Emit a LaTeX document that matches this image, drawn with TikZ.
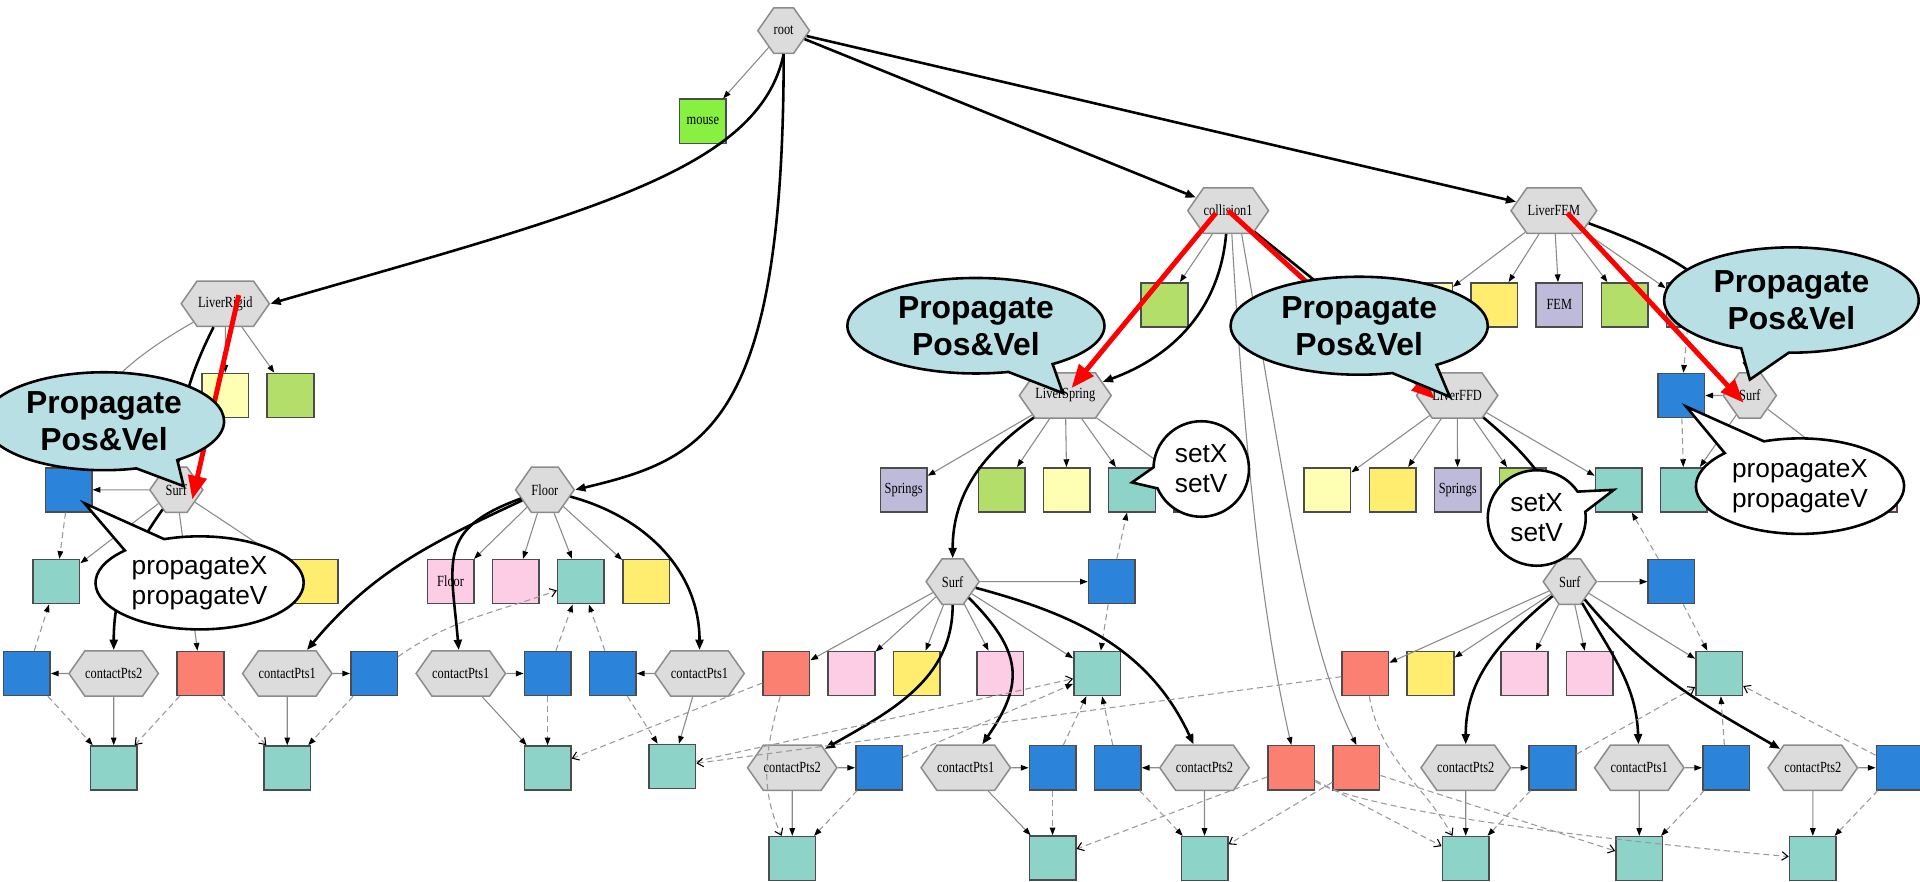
\documentclass[tikz,border=0pt]{standalone}
\usepackage{fontspec}
\setmainfont{Liberation Serif}
\setsansfont{Liberation Sans}
\usepackage{graphicx}
\usetikzlibrary{arrows.meta,positioning,shapes.symbols,shapes.callouts}
\definecolor{hexfill}{HTML}{DCDCDC}
\definecolor{hexline}{HTML}{8C8C8C}
\definecolor{cteal}{HTML}{8DD3C7}
\definecolor{cblue}{HTML}{2B83DA}
\definecolor{cred}{HTML}{FB8072}
\definecolor{cpink}{HTML}{FCCDE5}
\definecolor{cyel}{HTML}{FFED6F}
\definecolor{cly}{HTML}{FFFFB3}
\definecolor{cgrn}{HTML}{B3DE69}
\definecolor{clav}{HTML}{BEBADA}
\definecolor{cmouse}{HTML}{88F040}
\definecolor{bubblue}{HTML}{B8E0E4}
\definecolor{edgegray}{HTML}{8A8A8A}
\definecolor{mapgray}{HTML}{9A9A9A}
\newcommand{\nm}[1]{\scalebox{0.8}[1]{#1}}
\tikzset{
  hexn/.style={signal,signal to=west and east,signal pointer angle=110,draw=hexline,fill=hexfill,line width=0.35pt,minimum height=3.7mm,inner xsep=0pt,inner ysep=0pt,font=\fontsize{3.6}{4}\selectfont},
  sq/.style={rectangle,draw=black!70,line width=0.35pt,minimum width=3.8mm,minimum height=3.6mm,inner sep=0pt,font=\fontsize{3.6}{4}\selectfont},
  tealsq/.style={sq,fill=cteal},
  bluesq/.style={sq,fill=cblue},
  redsq/.style={sq,fill=cred},
  pinksq/.style={sq,fill=cpink},
  yelsq/.style={sq,fill=cyel},
  lysq/.style={sq,fill=cly},
  grnsq/.style={sq,fill=cgrn},
  lavsq/.style={sq,fill=clav},
  mousesq/.style={sq,fill=cmouse},
  comp/.style={draw=edgegray,line width=0.25pt,-{Triangle[black,length=1.8pt,width=1.3pt]}},
  sub/.style={draw=black,line width=0.6pt,-{Triangle[length=2.4pt,width=1.8pt]}},
  mapd/.style={draw=mapgray,line width=0.25pt,dash pattern=on 1.4pt off 0.9pt,-{Triangle[black,length=1.8pt,width=1.3pt]}},
  mapo/.style={mapd,-{Straight Barb[black,length=1.4pt,width=2pt]}},
  redarr/.style={draw=red,line width=1.15pt,-{Triangle[length=5.5pt,width=4.2pt]}},
  bubble/.style={ellipse callout,draw=black,line width=0.6pt,fill=bubblue,inner sep=0pt,callout pointer arc=22,align=center,font=\sffamily\bfseries\fontsize{7.4}{8.6}\selectfont},
  talk/.style={bubble,fill=white,callout pointer arc=26,font=\sffamily\fontsize{6.1}{7}\selectfont}
}
\begin{document}
\begin{tikzpicture}[x=0.1mm,y=-0.1mm,node distance=1.4mm]
\path[use as bounding box,fill=white] (0,0) rectangle (1568,720);

% top level
\node[hexn,minimum width=4mm] (root) at (640,25) {\nm{root}};
\node[mousesq] (mouse) at (574,99) {\nm{mouse}};
\node[hexn,minimum width=7.2mm] (lrigid) at (184,248) {\nm{LiverRigid}};
\node[hexn,minimum width=4.2mm] (floor) at (445,400) {\nm{Floor}};
\node[hexn,minimum width=6.6mm] (coll) at (1003,172) {\nm{collision1}};
\node[hexn,minimum width=7mm] (lfem) at (1269,172) {\nm{LiverFEM}};

% children of collision1 / LiverFEM
\node[grnsq] (cgreen) at (951,249) {};
\node[lysq] (fly) at (1167,249) {};
\node[yelsq,right=of fly] (fyel) {};
\node[lavsq,right=of fyel] (ffem) {\nm{FEM}};
\node[grnsq,right=of ffem] (fgreen) {};
\node[tealsq,right=of fgreen] (fteal) {};

% second level
\node[lysq] (lry) at (184,323) {};
\node[grnsq,right=of lry] (lrg) {};
\node[hexn,minimum width=7.5mm] (lspring) at (870,323) {\nm{LiverSpring}};
\node[hexn,minimum width=6.6mm] (lffd) at (1190,323) {\nm{LiverFFD}};
\node[bluesq] (fblue) at (1373,323) {};
\node[hexn,minimum width=3.9mm,right=of fblue] (fsurf) {\nm{Surf}};

\node[hexn,minimum width=3.9mm] (lsurf) at (144,400) {\nm{Surf}};
\node[bluesq] (lblue) at (56,400) {};
\node[lavsq] (springs1) at (738,400) {\nm{Springs}};
\node[grnsq] (sgreen) at (818,400) {};
\node[lysq,right=of sgreen] (sly) {};
\node[tealsq,right=of sly] (steal) {};
\node[yelsq,right=of steal] (syel) {};
\node[lysq] (dly) at (1084,400) {};
\node[yelsq,right=of dly] (dyel) {};
\node[lavsq,right=of dyel] (dspr) {\nm{Springs}};
\node[grnsq,right=of dspr] (dgreen) {};
\node[tealsq] (dteal) at (1322,400) {};
\node[tealsq,right=of dteal] (fsteal) {};
\node[pinksq] (fspink) at (1530,400) {};

% surface level
\node[tealsq] (lteal) at (46,475) {};
\node[yelsq] (lyel) at (257,475) {};
\node[pinksq] (fpink) at (368,475) {\nm{Floor}};
\node[pinksq,right=of fpink] (fpink2) {};
\node[tealsq,right=of fpink2] (fteal2) {};
\node[yelsq,right=of fteal2] (fyel2) {};
\node[hexn,minimum width=3.9mm] (msurf) at (778,475) {\nm{Surf}};
\node[bluesq] (mblue) at (908,475) {};
\node[hexn,minimum width=3.9mm] (rsurf) at (1282,475) {\nm{Surf}};
\node[bluesq] (rblue) at (1365,475) {};

% contact row
\node[bluesq] (a1blue) at (22,550) {};
\node[hexn,minimum width=7.3mm,right=of a1blue] (a1cp) {\nm{contactPts2}};
\node[redsq,right=of a1cp] (a1red) {};
\node[hexn,minimum width=7.3mm,right=of a1red] (b1cp) {\nm{contactPts1}};
\node[bluesq,right=of b1cp] (b1blue) {};
\node[hexn,minimum width=7.3mm,right=of b1blue] (b2cp) {\nm{contactPts1}};
\node[bluesq,right=of b2cp] (b2blue) {};
\node[bluesq,right=of b2blue] (b3blue) {};
\node[hexn,minimum width=7.3mm,right=of b3blue] (b3cp) {\nm{contactPts1}};
\node[redsq,right=of b3cp] (mred) {};
\node[pinksq,right=of mred] (mpink) {};
\node[yelsq,right=of mpink] (myel) {};
\node[pinksq] (mpink2) at (817,550) {};
\node[tealsq] (mteal) at (896,550) {};
\node[redsq] (rred) at (1115,550) {};
\node[yelsq,right=of rred] (ryel) {};
\node[pinksq] (rpink) at (1245,550) {};
\node[pinksq,right=of rpink] (rpink2) {};
\node[tealsq] (rteal) at (1404,550) {};

\node[tealsq,below=3.95mm of a1cp] (a1teal) {};
\node[tealsq,below=3.95mm of b1cp] (b1teal) {};
\node[tealsq,below=4mm of b2blue] (b2teal) {};
\node[tealsq] (b3teal) at (549,626) {};
\node[hexn,minimum width=7.3mm] (c1cp) at (647,627) {\nm{contactPts2}};
\node[bluesq,right=of c1cp] (c1blue) {};
\node[hexn,minimum width=7.3mm,right=of c1blue] (c2cp) {\nm{contactPts1}};
\node[bluesq,right=of c2cp] (c2blue) {};
\node[bluesq,right=of c2blue] (c3blue) {};
\node[hexn,minimum width=7.3mm,right=of c3blue] (c3cp) {\nm{contactPts2}};
\node[redsq,right=of c3cp] (cred1) {};
\node[redsq,right=of cred1] (cred2) {};
\node[hexn,minimum width=7.3mm] (d1cp) at (1197,627) {\nm{contactPts2}};
\node[bluesq,right=of d1cp] (d1blue) {};
\node[hexn,minimum width=7.3mm,right=of d1blue] (d2cp) {\nm{contactPts1}};
\node[bluesq,right=of d2cp] (d2blue) {};
\node[hexn,minimum width=7.3mm,right=of d2blue] (d3cp) {\nm{contactPts2}};
\node[bluesq,right=of d3cp] (d3blue) {};

\node[tealsq,below=3.65mm of c1cp] (c1teal) {};
\node[tealsq,below=3.65mm of c2blue] (c2teal) {};
\node[tealsq,below=3.65mm of c3cp] (c3teal) {};
\node[tealsq,below=3.65mm of d1cp] (d1teal) {};
\node[tealsq,below=3.65mm of d2cp] (d2teal) {};
\node[tealsq,below=3.65mm of d3cp] (d3teal) {};

% root edges
\draw[comp] (root) -- (mouse);
\draw[sub] (root.south) .. controls +(-20,95) and +(260,-75) .. (lrigid.east);
\draw[sub] (root.south) .. controls +(0,305) and +(105,-25) .. (floor.east);
\draw[sub] (root) -- (coll);
\draw[sub] (root) -- (lfem);

% LiverRigid
\draw[comp] (lrigid) -- (lry);
\draw[comp] (lrigid) -- (lrg);
\draw[comp] (lrigid) to[out=210,in=80] (lblue);
\draw[sub] (lrigid) to[bend right=12] (lsurf);
\draw[comp] (lsurf) -- (lblue);
\draw[comp] (lsurf) -- (lteal);
\draw[comp] (lsurf) -- (a1red);
\draw[comp] (lsurf) -- (lyel);
\draw[sub] (lsurf) to[out=-125,in=90] (a1cp);
\draw[mapd] (lblue) -- (lteal);
\draw[comp] (a1cp) -- (a1blue);
\draw[mapd] (a1blue) -- (lteal);
\draw[comp] (a1cp) -- (a1teal);
\draw[mapd] (a1blue) -- (a1teal);
\draw[mapo] (a1red) -- (a1teal);
\draw[mapo] (a1red) -- (b1teal);

% Floor
\draw[comp] (floor) -- (fpink);
\draw[comp] (floor) -- (fpink2);
\draw[comp] (floor) -- (fteal2);
\draw[comp] (floor) -- (fyel2);
\draw[sub] (floor) to[out=205,in=50] (b1cp);
\draw[sub] (floor) to[out=200,in=95,looseness=1.4] (b2cp);
\draw[sub] (floor) to[out=-15,in=90] (b3cp);
\draw[comp] (b1cp) -- (b1blue);
\draw[comp] (b1cp) -- (b1teal);
\draw[mapd] (b1blue) -- (b1teal);
\draw[mapo] (b1blue) to[out=35,in=200] (fteal2);
\draw[comp] (b2cp) -- (b2blue);
\draw[comp] (b2cp) -- (b2teal);
\draw[mapd] (b2blue) -- (b2teal);
\draw[mapd] (b2blue) -- (fteal2);
\draw[comp] (b3cp) -- (b3blue);
\draw[mapd] (b3blue) -- (fteal2);
\draw[comp] (b3cp) -- (b3teal);
\draw[mapd] (b3blue) -- (b3teal);

% collision1
\draw[comp] (coll) -- (cgreen);
\draw[sub] (coll) to[out=-95,in=20] (lspring);
\draw[sub] (coll) -- (lffd);
\draw[comp] ([xshift=0.3mm]coll.south) .. controls +(12,210) and +(-20,-88) .. (cred1.north);
\draw[comp] ([xshift=1.1mm]coll.south) .. controls +(40,230) and +(-40,-80) .. (cred2.north);

% LiverSpring
\draw[comp] (lspring) -- (springs1);
\draw[comp] (lspring) -- (sgreen);
\draw[comp] (lspring) -- (sly);
\draw[comp] (lspring) -- (steal);
\draw[comp] (lspring) -- (syel);
\draw[sub] (lspring) to[out=-145,in=90] (msurf);
\draw[comp] (msurf) -- (mblue);
\draw[mapd] (mblue) -- (steal);
\draw[mapd] (mblue) -- (mteal);
\draw[comp] (msurf) -- (mred);
\draw[comp] (msurf) -- (mpink);
\draw[comp] (msurf) -- (myel);
\draw[comp] (msurf) -- (mpink2);
\draw[comp] (msurf) -- (mteal);
\draw[sub] (msurf) to[out=-90,in=30] (c1cp);
\draw[sub] (msurf) to[out=-45,in=55,looseness=1.3] (c2cp);
\draw[sub] (msurf) to[out=-15,in=115] (c3cp);
\draw[comp] (c1cp) -- (c1blue);
\draw[comp] (c1cp) -- (c1teal);
\draw[mapd] (c1blue) -- (c1teal);
\draw[mapd] (c1blue) -- (mteal);
\draw[mapo] (mred) to[out=-105,in=115] (c1teal);
\draw[mapo] (mred) -- (b2teal);
\draw[mapo] (b3teal) -- (mteal);
\draw[comp] (c2cp) -- (c2blue);
\draw[comp] (c2cp) -- (c2teal);
\draw[mapd] (c2blue) -- (c2teal);
\draw[mapd] (c2blue) -- (mteal);
\draw[comp] (c3cp) -- (c3blue);
\draw[comp] (c3cp) -- (c3teal);
\draw[mapd] (c3blue) -- (mteal);
\draw[mapd] (c3blue) -- (c3teal);
\draw[mapo] (cred1) -- (c2teal);
\draw[mapo] (cred2) -- (c3teal);

% LiverFFD
\draw[comp] (lffd) -- (dly);
\draw[comp] (lffd) -- (dyel);
\draw[comp] (lffd) -- (dspr);
\draw[comp] (lffd) -- (dgreen);
\draw[comp] (lffd) -- (dteal);
\draw[sub] (lffd) to[out=-40,in=95] (rsurf);
\draw[comp] (rsurf) -- (rblue);
\draw[mapd] (rblue) -- (dteal);
\draw[mapd] (rblue) -- (rteal);
\draw[comp] (rsurf) -- (rred);
\draw[comp] (rsurf) -- (ryel);
\draw[comp] (rsurf) -- (rpink);
\draw[comp] (rsurf) -- (rpink2);
\draw[comp] (rsurf) -- (rteal);
\draw[sub] (rsurf) to[out=-140,in=90] (d1cp);
\draw[sub] (rsurf) to[out=-60,in=92] (d2cp);
\draw[sub] (rsurf) to[out=-50,in=150] (d3cp);
\draw[comp] (d1cp) -- (d1blue);
\draw[comp] (d1cp) -- (d1teal);
\draw[mapd] (d1blue) -- (d1teal);
\draw[mapo] (d1blue) -- (rteal);
\draw[comp] (d2cp) -- (d2blue);
\draw[comp] (d2cp) -- (d2teal);
\draw[mapd] (d2blue) -- (d2teal);
\draw[mapd] (d2blue) -- (rteal);
\draw[comp] (d3cp) -- (d3blue);
\draw[comp] (d3cp) -- (d3teal);
\draw[mapd] (d3blue) -- (d3teal);
\draw[mapo] (d3blue) -- (rteal);
\draw[mapo] (rred) -- (b3teal);
\draw[mapo] (rred) to[out=-80,in=120] (d1teal);
\draw[mapo] (cred1) -- (d1teal);
\draw[mapo] (cred2) -- (d2teal);
\draw[mapo] (cred1) to[out=-30,in=175,looseness=0.4] (d3teal);

% LiverFEM
\draw[comp] (lfem) -- (fly);
\draw[comp] (lfem) -- (fyel);
\draw[comp] (lfem) -- (ffem);
\draw[comp] (lfem) -- (fgreen);
\draw[comp] (lfem) -- (fteal);
\draw[sub] (lfem) to[out=-20,in=95] (fsurf);
\draw[comp] (fsurf) -- (fblue);
\draw[mapd] (fteal) -- (fblue);
\draw[mapd] (fblue) -- (fsteal);
\draw[comp] (fsurf) -- (fsteal);
\draw[comp] (fsurf) -- (fspink);

% propagation arrows
\draw[redarr] ([xshift=1.1mm,yshift=0.7mm]lrigid.center) -- ([xshift=1.3mm,yshift=-0.8mm]lsurf.center);
\draw[redarr] ([xshift=-1mm,yshift=-0.2mm]coll.center) -- ([xshift=0.5mm,yshift=0.6mm]lspring.center);
\draw[redarr] (coll.center) -- ([xshift=-1.8mm,yshift=-0.3mm]lffd.center);
\draw[redarr] ([xshift=1.1mm,yshift=-0.2mm]lfem.center) -- ([xshift=-0.5mm,yshift=-0.6mm]fsurf.center);

% callouts
\node[bubble,minimum width=19.6mm,minimum height=8mm,callout absolute pointer={([xshift=0.6mm,yshift=0.3mm]lsurf.center)}] (bubrigid) at (85,344) {Propagate\\Pos\&Vel};
\node[bubble,minimum width=21mm,minimum height=7.8mm,callout absolute pointer={([xshift=-0.2mm,yshift=0.2mm]lspring.center)}] (bubspring) at (797,266) {Propagate\\Pos\&Vel};
\node[bubble,minimum width=21mm,minimum height=8mm,callout absolute pointer={([xshift=-0.6mm,yshift=-0.1mm]lffd.center)}] (bubffd) at (1110,266) {Propagate\\Pos\&Vel};
\node[bubble,minimum width=20.8mm,minimum height=8.6mm,callout absolute pointer={([yshift=1.3mm]fsurf.center)}] (bubfem) at (1463,245) {Propagate\\Pos\&Vel};
\node[talk,minimum width=17mm,minimum height=7.6mm,callout absolute pointer={([xshift=1.3mm,yshift=-1.1mm]lblue.center)}] (pxvleft) at (163,476) {propagateX\\propagateV};
\node[talk,minimum width=17mm,minimum height=7.8mm,callout absolute pointer={([xshift=0.4mm,yshift=-0.9mm]fblue.center)}] (pxvright) at (1470,397) {propagateX\\propagateV};
\node[talk,minimum width=7.8mm,minimum height=7.8mm,callout absolute pointer={([yshift=0.6mm]steal.center)}] (sxvmid) at (981,383) {setX\\setV};
\node[talk,minimum width=8mm,minimum height=7.8mm,callout absolute pointer={([xshift=-0.4mm]dteal.center)}] (sxvright) at (1255,423) {setX\\setV};
\end{tikzpicture}
\end{document}
